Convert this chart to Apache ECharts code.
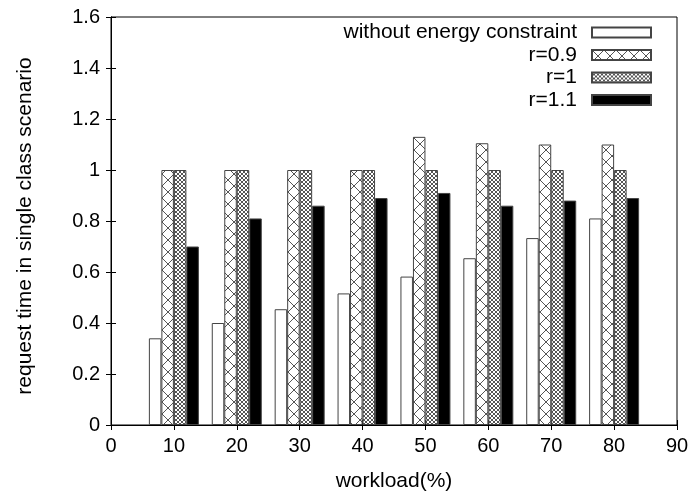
<!DOCTYPE html>
<html>
<head>
<meta charset="utf-8">
<script src="https://cdn.jsdelivr.net/npm/echarts@6/dist/echarts.min.js"></script>
<style>
  html, body { margin: 0; padding: 0; background: #fff; }
  #chart { width: 693px; height: 494px; }
</style>
</head>
<body>
<div id="chart"></div>
<script>
var myChart = echarts.init(document.getElementById('chart'));

// workload positions (%)
var workload = [10, 20, 30, 40, 50, 60, 70, 80];
var seriesNames = ['without energy constraint', 'r=0.9', 'r=1', 'r=1.1'];
// request time values
var noEnergy = [0.34, 0.40, 0.454, 0.516, 0.582, 0.654, 0.733, 0.81];
var r09 = [1.0, 1.0, 1.0, 1.0, 1.13, 1.105, 1.10, 1.10];
var r10 = [1.0, 1.0, 1.0, 1.0, 1.0, 1.0, 1.0, 1.0];
var r11 = [0.70, 0.81, 0.86, 0.89, 0.91, 0.86, 0.88, 0.89];
var yTicks = ['0', '0.2', '0.4', '0.6', '0.8', '1', '1.2', '1.4', '1.6'];

// hatch patterns like gnuplot fill patterns
function hatch(size, color) {
    var c = document.createElement('canvas');
    c.width = size;
    c.height = size;
    var ctx = c.getContext('2d');
    ctx.fillStyle = '#fff';
    ctx.fillRect(0, 0, size, size);
    ctx.strokeStyle = color;
    ctx.lineWidth = 1;
    ctx.beginPath();
    ctx.moveTo(-1, -1); ctx.lineTo(size + 1, size + 1);
    ctx.moveTo(size + 1, -1); ctx.lineTo(-1, size + 1);
    ctx.stroke();
    return { image: c, repeat: 'repeat' };
}

var fills = ['#fff', hatch(12, '#555'), hatch(4, '#555'), '#000'];
var values = [noEnergy, r09, r10, r11];
var font = 'Liberation Sans';
var legendRows = [22, 44.5, 67, 89.5];

var series = [];
var legends = [];
for (var i = 0; i < seriesNames.length; i++) {
    series.push({
        name: seriesNames[i],
        type: 'bar',
        barWidth: 12.5,
        barGap: '0%',
        itemStyle: {
            color: fills[i],
            borderColor: '#444',
            borderWidth: 1
        },
        data: workload.map(function (w, k) { return [w, values[i][k]]; })
    });
    legends.push({
        data: [seriesNames[i]],
        orient: 'vertical',
        align: 'right',
        icon: 'rect',
        right: 41,
        top: legendRows[i],
        padding: 0,
        itemWidth: 59,
        itemHeight: 10,
        itemGap: 0,
        selectedMode: false,
        textStyle: { color: '#000', fontSize: 21, fontFamily: font, padding: [0, 10, 0, 0] }
    });
}

var option = {
    backgroundColor: '#fff',
    animation: false,
    legend: legends,
    grid: {
        left: 111,
        right: 16,
        top: 17,
        bottom: 69,
        outerBoundsMode: 'none',
        show: true,
        borderColor: '#000',
        borderWidth: 1
    },
    xAxis: [{
        type: 'value',
        min: 0,
        max: 90,
        interval: 10,
        name: 'workload(%)',
        nameLocation: 'middle',
        nameGap: 46,
        nameTextStyle: { color: '#000', fontSize: 21, fontFamily: font },
        axisLine: { show: true, lineStyle: { color: '#000' } },
        axisTick: { inside: true, length: 5, lineStyle: { color: '#000' } },
        axisLabel: { color: '#000', fontSize: 20, fontFamily: font, margin: 11 },
        splitLine: { show: false }
    }, {
        type: 'value',
        position: 'top',
        min: 0,
        max: 90,
        interval: 10,
        axisLine: { show: true, lineStyle: { color: '#000' } },
        axisTick: { inside: true, length: 5, lineStyle: { color: '#000' } },
        axisLabel: { show: false },
        splitLine: { show: false }
    }],
    yAxis: [{
        type: 'value',
        min: 0,
        max: 1.6,
        interval: 0.2,
        name: 'request time in single class scenario',
        nameLocation: 'middle',
        nameGap: 75,
        nameTextStyle: { color: '#000', fontSize: 21, fontFamily: font, padding: [0, 10, 0, 0] },
        axisLine: { show: true, lineStyle: { color: '#000' } },
        axisTick: { inside: true, length: 5, lineStyle: { color: '#000' } },
        axisLabel: {
            color: '#000', fontSize: 20, fontFamily: font, margin: 11,
            formatter: function (v) { return yTicks[Math.round(v / 0.2)]; }
        },
        splitLine: { show: false }
    }, {
        type: 'value',
        position: 'right',
        min: 0,
        max: 1.6,
        interval: 0.2,
        axisLine: { show: true, lineStyle: { color: '#000' } },
        axisTick: { inside: true, length: 5, lineStyle: { color: '#000' } },
        axisLabel: { show: false },
        splitLine: { show: false }
    }],
    series: series
};

myChart.setOption(option);
</script>
</body>
</html>
